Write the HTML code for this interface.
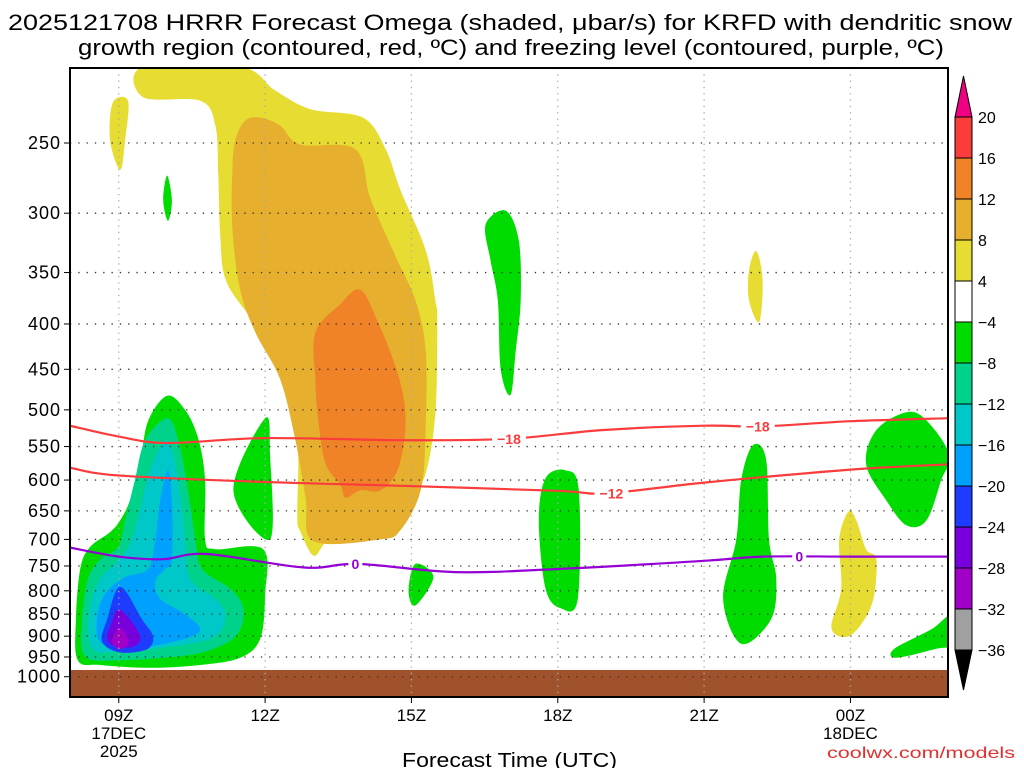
<!DOCTYPE html>
<html><head><meta charset="utf-8"><style>
body{margin:0;background:#fff;width:1024px;height:768px;overflow:hidden;font-family:"Liberation Sans",sans-serif}
svg text{font-family:"Liberation Sans",sans-serif}
</style></head><body>
<svg id="c" width="1024" height="768" xmlns="http://www.w3.org/2000/svg">
<text x="8" y="30" font-size="22" textLength="1004" lengthAdjust="spacingAndGlyphs">2025121708 HRRR Forecast Omega (shaded, μbar/s) for KRFD with dendritic snow</text>
<text x="78" y="55" font-size="22" textLength="866" lengthAdjust="spacingAndGlyphs">growth region (contoured, red, ºC) and freezing level (contoured, purple, ºC)</text>
<g id="plot"></g>
<text x="402" y="767" font-size="20" textLength="215" lengthAdjust="spacingAndGlyphs">Forecast Time (UTC)</text>
<text x="827" y="758" font-size="16" fill="#e03030" textLength="188" lengthAdjust="spacingAndGlyphs">coolwx.com/models</text>
</svg>
<script>
const xTicks=[9,12,15,18,21,24];
const xTickLabels=[["09Z","17DEC","2025"],["12Z"],["15Z"],["18Z"],["21Z"],["00Z","18DEC"]];
const yTicks=[250,300,350,400,450,500,550,600,650,700,750,800,850,900,950,1000];
const levels=[20,16,12,8,4,-4,-8,-12,-16,-20,-24,-28,-32,-36];
const barColors=["#fa3c3c","#f08228","#e6af2d","#e6dc32","#ffffff","#00dc00","#00d28c","#00c8c8","#00a0ff","#1e3cff","#7800dc","#a000c8","#a0a0a0"];
const yellow=[[9.5,205],[11.49,205],[12.2,218],[12.93,229],[14.0,234],[14.47,254],[14.78,283],[15.29,330],[15.49,376],[15.53,400],[15.49,505],[15.29,590],[14.98,626],[14.57,640],[14.06,632],[13.75,660],[13.24,705],[12.99,730],[12.72,685],[12.66,660],[12.68,560],[12.62,475],[12.31,428],[11.59,386],[11.18,355],[11.08,318],[11.04,272],[10.98,239],[10.67,224],[9.5,222]];
const lightOrange=[[11.59,236],[11.9,234],[12.31,239],[12.72,251],[13.85,254],[14.16,289],[14.67,335],[15.08,376],[15.29,428],[15.29,527],[15.19,616],[14.78,683],[14.37,700],[12.99,703],[12.83,628],[12.62,541],[12.31,462],[11.8,409],[11.49,366],[11.33,313],[11.33,268],[11.39,248]];
const orange=[[13.03,409],[13.54,380],[13.95,366],[14.32,399],[14.73,457],[14.88,514],[14.73,582],[14.37,616],[13.95,616],[13.65,628],[13.54,607],[13.24,575],[13.09,514],[13.03,462]];
const yellowSmall1=[[8.88,225],[9.19,224],[9.13,248],[9.03,268],[8.82,248]];
const yellowSmall2=[[22.07,331],[22.2,357],[22.13,398],[21.92,376],[21.92,348]];
const yellowSmall3=[[23.96,651],[24.12,666],[24.32,718],[24.53,737],[24.47,817],[24.22,873],[23.91,902],[23.61,880],[23.81,796],[23.77,700]];
const greenMain=[[9.99,482],[10.36,500],[10.63,539],[10.77,600],[10.77,700],[10.98,718],[11.96,718],[12.0,809],[11.9,906],[11.49,952],[10.67,970],[9.64,977],[8.62,970],[8.16,958],[8.12,862],[8.21,756],[8.41,714],[8.82,687],[9.03,666],[9.23,632],[9.44,573],[9.6,515]];
const teal=[[9.99,511],[10.22,541],[10.42,616],[10.57,700],[10.71,756],[11.29,796],[11.55,835],[11.49,884],[11.18,918],[10.46,945],[9.03,958],[8.31,948],[8.25,862],[8.37,776],[8.62,737],[8.99,714],[9.13,666],[9.33,600],[9.54,541]];
const cyan=[[9.99,541],[10.22,600],[10.36,700],[10.46,776],[10.98,817],[11.18,850],[11.04,895],[10.46,918],[9.03,937],[8.45,927],[8.41,837],[8.62,776],[8.92,746],[9.23,709],[9.44,648],[9.64,585]];
const lightBlue=[[10.01,585],[10.09,632],[10.09,737],[9.95,756],[9.75,780],[9.85,817],[10.36,850],[10.67,884],[10.36,906],[9.44,927],[8.66,918],[8.55,862],[8.72,806],[9.13,772],[9.6,756],[9.75,700],[9.85,632]];
const darkBlue=[[9.03,792],[9.48,862],[9.7,900],[9.58,931],[9.03,939],[8.66,913],[8.76,862]];
const violet=[[9.03,840],[9.44,900],[9.23,927],[8.78,913],[8.86,868]];
const magenta=[[9.03,880],[9.2,913],[9.03,931],[8.86,913]];
const green2=[[9.99,272],[10.09,290],[10.01,306],[9.91,290]];
const green3=[[12.0,511],[12.1,560],[12.1,700],[11.35,616]];
const green4=[[16.52,309],[16.93,298],[17.2,322],[17.24,376],[17.14,428],[17.03,481],[16.83,450],[16.77,376],[16.62,339]];
const green5=[[17.75,597],[18.16,585],[18.43,616],[18.41,817],[18.06,837],[17.75,796],[17.61,666]];
const green6=[[15.08,746],[15.45,772],[15.08,831],[14.94,800]];
const green7=[[22.0,548],[22.27,569],[22.33,700],[22.48,776],[22.37,862],[21.76,918],[21.39,817],[21.66,700],[21.76,600]];
const green8=[[25.15,503],[25.56,514],[26.03,562],[25.86,600],[25.56,666],[25.15,675],[24.73,632],[24.32,576],[24.53,527]];
const green9=[[26.1,850],[26.1,918],[25.76,930],[24.94,952],[24.9,930],[25.66,884]];
const iso18=[[8,521],[9,536],[10,545],[12,538],[14.8,541],[17,539],[18.9,527],[21,521],[22.2,522],[24,515],[26,511]];
const iso12=[[8,581],[9,593],[12,603],[14.8,609],[18,617],[19,621],[21,604],[24,584],[26,576]];
const iso0=[[8,715],[9,732],[9.9,737],[10.8,727],[12.8,753],[13.9,746],[15.9,762],[18,756],[21,740],[22.2,732],[24,732],[26,732]];

const X0=70,X1=948,Y0=68,Y1=697,H0=8,H1=26,PREF=250,YREF=143,K=385;
const sx=h=>X0+(h-H0)*(X1-X0)/(H1-H0);
const sy=p=>YREF+K*Math.log(p/PREF);
const NS="http://www.w3.org/2000/svg";
const plot=document.getElementById('plot');
function mk(tag,attrs,parent){const e=document.createElementNS(NS,tag);for(const k in attrs)e.setAttribute(k,attrs[k]);(parent||plot).appendChild(e);return e;}
function smooth(pts,closed){const P=pts.map(p=>[sx(p[0]),sy(p[1])]);const n=P.length;let d="M"+P[0][0].toFixed(1)+","+P[0][1].toFixed(1);const last=closed?n:n-1;for(let i=0;i<last;i++){const p0=P[closed?(i-1+n)%n:Math.max(i-1,0)],p1=P[i],p2=P[(i+1)%n],p3=P[closed?(i+2)%n:Math.min(i+2,n-1)];const c1=[p1[0]+(p2[0]-p0[0])/6,p1[1]+(p2[1]-p0[1])/6],c2=[p2[0]-(p3[0]-p1[0])/6,p2[1]-(p3[1]-p1[1])/6];d+="C"+c1[0].toFixed(1)+","+c1[1].toFixed(1)+" "+c2[0].toFixed(1)+","+c2[1].toFixed(1)+" "+p2[0].toFixed(1)+","+p2[1].toFixed(1);}return d+(closed?"Z":"");}
const cp=mk('clipPath',{id:'clip'});
mk('rect',{x:X0,y:Y0,width:X1-X0,height:Y1-Y0},cp);
const g=mk('g',{'clip-path':'url(#clip)'});
const fills=[[yellow,"#e6dc32","omega-4-8"],[lightOrange,"#e6af2d","omega-8-12"],[orange,"#f08228","omega-12-16"],[yellowSmall1,"#e6dc32","omega-4-8"],[yellowSmall2,"#e6dc32","omega-4-8"],[yellowSmall3,"#e6dc32","omega-4-8"],[greenMain,"#00dc00","omega-neg4"],[teal,"#00d28c","omega-neg8"],[cyan,"#00c8c8","omega-neg12"],[lightBlue,"#00a0ff","omega-neg16"],[darkBlue,"#1e3cff","omega-neg20"],[violet,"#7800dc","omega-neg24"],[magenta,"#a000c8","omega-neg28"],[green2,"#00dc00","omega-neg4"],[green3,"#00dc00","omega-neg4"],[green4,"#00dc00","omega-neg4"],[green5,"#00dc00","omega-neg4"],[green6,"#00dc00","omega-neg4"],[green7,"#00dc00","omega-neg4"],[green8,"#00dc00","omega-neg4"],[green9,"#00dc00","omega-neg4"]];
fills.forEach(f=>{const e=mk('path',{d:smooth(f[0],true),fill:f[1]},g);

});
const gr=mk('rect',{x:X0,y:sy(975)+3,width:X1-X0,height:Y1-sy(975)-3,fill:"#a0522d"},g);


yTicks.forEach(p=>{const y=sy(p);const l=mk('line',{x1:X0,x2:X1,y1:y,y2:y,stroke:"#333","stroke-width":1.3,"stroke-dasharray":"1.3 7"},g);


mk('line',{x1:X0-6,x2:X0,y1:y,y2:y,stroke:"#000"});
const t=mk('text',{x:X0-9,y:y+6,"font-size":18,"letter-spacing":1,"text-anchor":"end"});t.textContent=p;

});
xTicks.forEach((h,i)=>{const x=sx(h);const l=mk('line',{x1:x,x2:x,y1:Y0,y2:Y1,stroke:"#aaa","stroke-width":1.3,"stroke-dasharray":"1.3 5"},g);


mk('line',{x1:x,x2:x,y1:Y1,y2:Y1+6,stroke:"#000"});
xTickLabels[i].forEach((s,j)=>{const t=mk('text',{x:x,y:Y1+24+j*18,"font-size":17,"text-anchor":"middle"});t.textContent=s;

});});
[[iso18,"#fa3c3c","isotherm-minus18"],[iso12,"#fa3c3c","isotherm-minus12"],[iso0,"#9400d3","freezing-level-0c"]].forEach(s=>{const e=mk('path',{d:smooth(s[0],false),fill:"none",stroke:s[1],"stroke-width":2.2},g);

});
const labels=[[17,539,"−18","#fa3c3c"],[22.1,522,"−18","#fa3c3c"],[19.1,621,"−12","#fa3c3c"],[13.85,746,"0","#9400d3"],[22.95,732,"0","#9400d3"]];
labels.forEach(L=>{const x=sx(L[0]),y=sy(L[1]);mk('rect',{x:x-(L[2].length*5+2),y:y-7,width:L[2].length*10+4,height:14,fill:"#fff"},g);
const t=mk('text',{x:x,y:y+5,"font-size":14,"font-weight":"bold","text-anchor":"middle",fill:L[3]},g);t.textContent=L[2];

});
const fr=mk('rect',{x:X0,y:Y0,width:X1-X0,height:Y1-Y0,fill:"none",stroke:"#000","stroke-width":2});


const CB=mk('g',{});


const bx=955,bw=17,bt=117,bb=650,bh=(bb-bt)/barColors.length;
mk('path',{d:`M${bx},${bt} L${bx+bw/2},76 L${bx+bw},${bt}Z`,fill:"#f00082",stroke:"#000"},CB);
barColors.forEach((c,i)=>{mk('rect',{x:bx,y:bt+i*bh,width:bw,height:bh,fill:c,stroke:"#000","stroke-width":1},CB);});
mk('path',{d:`M${bx},${bb} L${bx+bw/2},690 L${bx+bw},${bb}Z`,fill:"#000",stroke:"#000"},CB);
levels.forEach((v,i)=>{const t=mk('text',{x:978,y:bt+i*bh+6,"font-size":16},CB);t.textContent=v<0?"−"+(-v):v;

});
</script>
</body></html>
